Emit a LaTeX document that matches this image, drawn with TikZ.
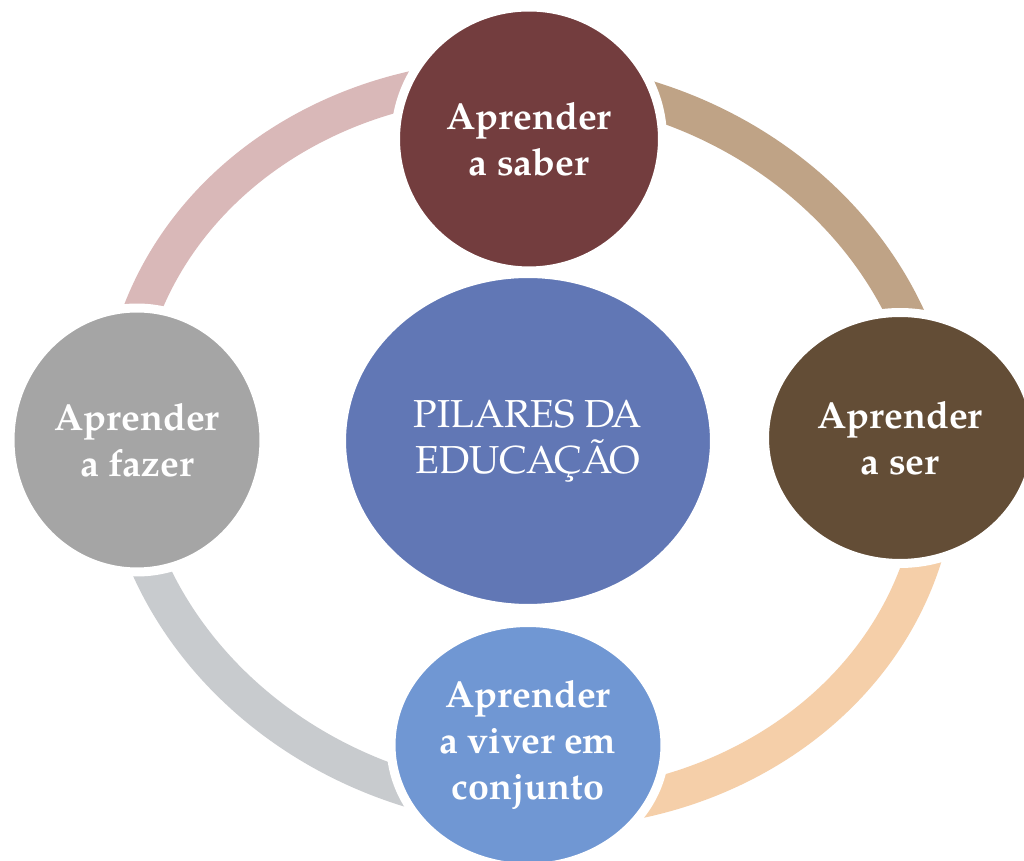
\documentclass[tikz,border=0pt]{standalone}
\usepackage{fontspec}
\setmainfont{texgyrepagella}[Extension=.otf, UprightFont=*-regular, BoldFont=*-bold, ItalicFont=*-italic, BoldItalicFont=*-bolditalic]
\usepackage{tikz}
\usetikzlibrary{shapes.geometric}
\definecolor{saber-red}{HTML}{733D3E}
\definecolor{ser-brown}{HTML}{634D36}
\definecolor{fazer-gray}{HTML}{A5A5A5}
\definecolor{viver-blue}{HTML}{7097D3}
\definecolor{center-blue}{HTML}{6177B5}
\definecolor{arc-pink}{HTML}{D9B8B8}
\definecolor{arc-tan}{HTML}{BFA386}
\definecolor{arc-peach}{HTML}{F5CFA9}
\definecolor{arc-gray}{HTML}{C8CBCE}
\tikzset{
    pillar/.style = {ellipse, draw=white, line width=0.18cm, text=white, align=center, inner sep=0pt, font=\bfseries\fontsize{21.4}{26}\selectfont},
    ring-arc/.style = {line width=0.74cm},
}

\begin{document}
\begin{tikzpicture}[x=0.02cm, y=0.02cm]
\fill[white] (0,0) rectangle (1024,861);
\useasboundingbox (0,0) rectangle (1024,861);
% ring behind the pillars
\begin{scope}[shift={(529,417)}, rotate=-10]
\draw[ring-arc, draw=arc-pink] (90:8.22cm and 7.28cm) arc[start angle=90, end angle=180, x radius=8.22cm, y radius=7.28cm];
\draw[ring-arc, draw=arc-tan] (0:8.22cm and 7.28cm) arc[start angle=0, end angle=90, x radius=8.22cm, y radius=7.28cm];
\draw[ring-arc, draw=arc-peach] (270:8.22cm and 7.28cm) arc[start angle=270, end angle=360, x radius=8.22cm, y radius=7.28cm];
\draw[ring-arc, draw=arc-gray] (180:8.22cm and 7.28cm) arc[start angle=180, end angle=270, x radius=8.22cm, y radius=7.28cm];
\end{scope}
% pillars
\node[pillar, fill=saber-red, minimum width=5.34cm, minimum height=5.28cm] (saber) at (529,722) {Aprender\\a saber};
\node[pillar, fill=ser-brown, minimum width=5.42cm, minimum height=5.02cm] (ser) at (900,423) {Aprender\\a ser};
\node[pillar, fill=fazer-gray, minimum width=5.08cm, minimum height=5.28cm] (fazer) at (137,421) {Aprender\\a fazer};
\node[pillar, fill=viver-blue, minimum width=5.48cm, minimum height=4.9cm] (viver) at (528,116) {Aprender\\a viver em\\conjunto};
\node[pillar, fill=center-blue, minimum width=7.46cm, minimum height=6.7cm, font=\fontsize{22.2}{26}\selectfont] (pilares) at (528,420) {PILARES DA\\EDUCAÇÃO};
\end{tikzpicture}
\end{document}
